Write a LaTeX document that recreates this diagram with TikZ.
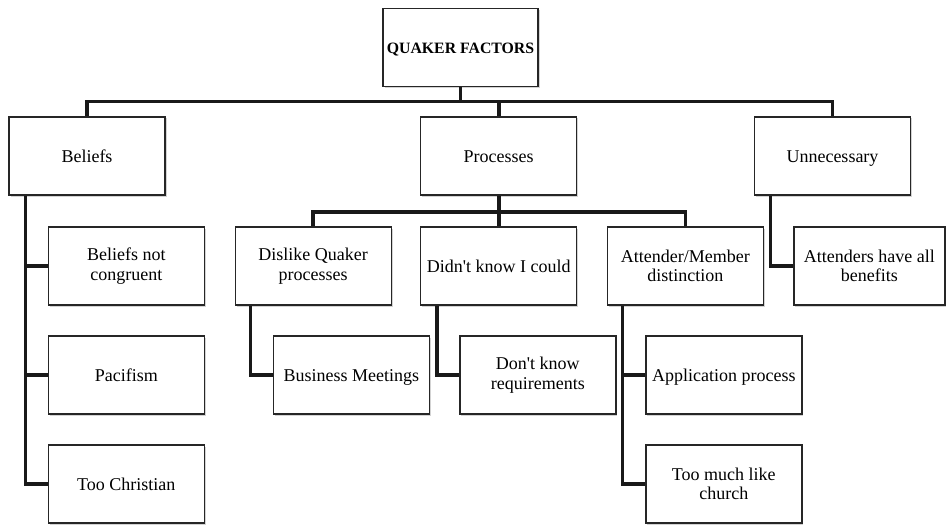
\documentclass[tikz,border=0pt]{standalone}
\usepackage{fontspec}
\setmainfont{Liberation Serif}
\usetikzlibrary{shadows}
\begin{document}
\begin{tikzpicture}[x=1pt,y=-1pt,
  box/.style={draw=black!85, line width=1.4pt, fill=white, minimum width=156pt, minimum height=78pt,
    inner sep=2pt, align=center, font=\fontsize{18}{19.5}\selectfont,
    drop shadow={shadow xshift=1.5pt, shadow yshift=-1.5pt, opacity=0.35}},
  oneline/.style={text height=12pt, text depth=0pt},
  conn/.style={line width=3.6pt, black!90, line join=miter}]
\useasboundingbox (0,0) rectangle (946,527);
% nodes
\node[box, oneline, minimum width=155pt, font=\bfseries\fontsize{15.8}{18}\selectfont] (root) at (460.5,47.5) {QUAKER FACTORS};
\node[box, oneline] (beliefs) at (87,156) {Beliefs};
\node[box, oneline] (processes) at (498.7,156) {Processes};
\node[box, oneline] (unnecessary) at (832.5,156) {Unnecessary};
\node[box] (bnc) at (126.3,266) {Beliefs not\\congruent};
\node[box] (dislike) at (313.2,266) {Dislike Quaker\\processes};
\node[box, oneline] (didnt) at (498.7,266) {Didn\textquotesingle t know I could};
\node[box] (attender) at (685.3,266) {Attender/Member\\distinction};
\node[box, minimum width=151pt] (attenders) at (869.3,266) {Attenders have all\\benefits};
\node[box, oneline] (pacifism) at (126.3,375) {Pacifism};
\node[box, oneline] (business) at (351.3,375) {Business Meetings};
\node[box] (dontknow) at (537.8,375) {Don\textquotesingle t know\\requirements};
\node[box, oneline] (application) at (723.8,375) {Application process};
\node[box, oneline] (toochristian) at (126.3,484) {Too Christian};
\node[box] (toomuch) at (723.8,484) {Too much like\\church};
% top bus
\coordinate (bus1) at (0,101.7);
\draw[conn] (beliefs.north) |- (unnecessary.north |- bus1) -- (unnecessary.north);
\draw[conn] (root.south) -- (root.south |- bus1);
\draw[conn] (processes.north) -- (processes.north |- bus1);
% beliefs branch
\coordinate (bt) at ([xshift=17pt]beliefs.south west);
\draw[conn] (bt) |- (toochristian.west);
\draw[conn] (bnc.west) -- (bnc.west -| bt);
\draw[conn] (pacifism.west) -- (pacifism.west -| bt);
% processes bus
\coordinate (pbus) at (0,211.7);
\draw[conn] (dislike.north) |- (attender.north |- pbus) -- (attender.north);
\draw[conn] (processes.south) -- (didnt.north);
% sub-branches
\coordinate (dt) at ([xshift=16pt]dislike.south west);
\draw[conn] (dt) |- (business.west);
\coordinate (kt) at ([xshift=17pt]didnt.south west);
\draw[conn] (kt) |- (dontknow.west);
\coordinate (at) at ([xshift=16pt]attender.south west);
\draw[conn] (at) |- (toomuch.west);
\draw[conn] (application.west) -- (application.west -| at);
\coordinate (ut) at ([xshift=16.7pt]unnecessary.south west);
\draw[conn] (ut) |- (attenders.west);
\end{tikzpicture}
\end{document}
